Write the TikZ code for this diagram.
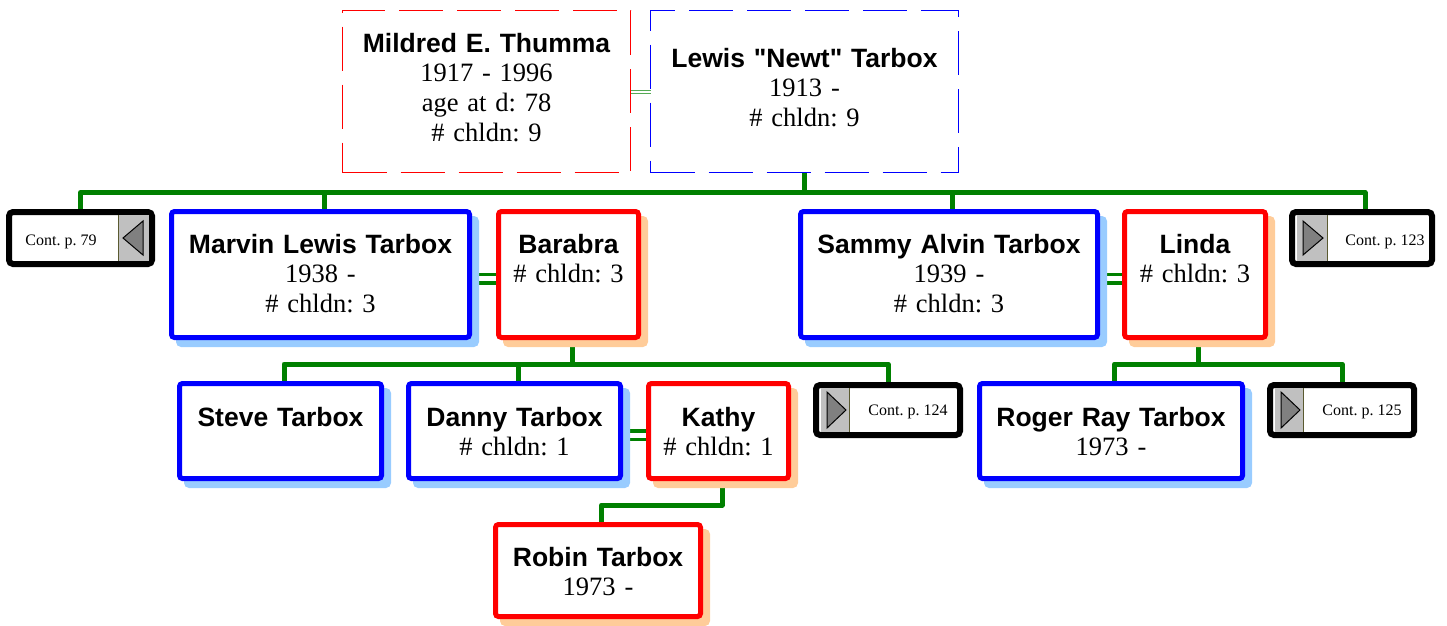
\documentclass[tikz,border=0pt]{standalone}
\usepackage{fontspec}
\setmainfont{Liberation Serif}
\setsansfont{Liberation Sans}
\usetikzlibrary{shadows,backgrounds}
\definecolor{pblue}{HTML}{0000FF}
\definecolor{pred}{HTML}{FF0000}
\definecolor{sblue}{HTML}{99CCFF}
\definecolor{sred}{HTML}{FFCC99}
\definecolor{lgreen}{HTML}{008000}
\definecolor{thingreen}{HTML}{55AA55}
\definecolor{panelgray}{HTML}{C0C0C0}
\definecolor{trigray}{HTML}{808080}
\definecolor{panelline}{HTML}{5A5A30}
\newcommand\pname[1]{{\sffamily\bfseries #1}}
\frenchspacing
\begin{document}
\begin{tikzpicture}[x=1pt,y=-1pt,
  every node/.style={inner sep=0pt, outer sep=0pt},
  dims/.style n args={3}{text width=#1, text height=#2, text depth=#3},
  person/.style={draw, fill=white, line width=5pt, rounded corners=3pt,
    align=center, anchor=north west, font=\frenchspacing\fontsize{26.5}{29.8}\selectfont},
  male/.style={person, draw=pblue,
    general shadow={draw=sblue, fill=sblue, shadow xshift=7pt, shadow yshift=-7pt}},
  female/.style={person, draw=pred,
    general shadow={draw=sred, fill=sred, shadow xshift=7pt, shadow yshift=-7pt}},
  topmale/.style={person, line width=0.9pt, rounded corners=0pt, draw=pblue, dash pattern=on 44pt off 14pt},
  topfemale/.style={person, line width=0.9pt, rounded corners=0pt, draw=pred, dash pattern=on 44pt off 14pt},
  cont/.style={draw=black, fill=white, line width=6pt, rounded corners=4pt, anchor=north west},
  conttxt/.style={anchor=base, font=\fontsize{16}{18}\selectfont},
  panel/.style={fill=panelgray},
  tri/.style={fill=trigray, draw=black, line width=1pt, line join=miter},
  conn/.style={draw=lgreen, line width=5pt, line join=round},
  marr/.style={draw=lgreen, line width=3.5pt, double=white, double distance=5pt},
  thinmarr/.style={draw=thingreen, line width=1pt, double=white, double distance=2pt}
]
\useasboundingbox (0,0) rectangle (1447,625);

% ---------- persons ----------
\node[topfemale, dims={288pt}{41.5pt}{120.5pt}] (mildred) at (342.5,10.5)
  {\pname{Mildred E. Thumma}\\1917 - 1996\\age at d: 78\\\# chldn: 9};
\node[topmale, dims={308pt}{56.5pt}{105.5pt}] (lewis) at (650.5,10.5)
  {\pname{Lewis \textquotedbl Newt\textquotedbl\ Tarbox}\\1913 -\\\# chldn: 9};

\node[male, dims={298pt}{41.5pt}{84.5pt}] (marvin) at (171.5,211.5)
  {\pname{Marvin Lewis Tarbox}\\1938 -\\\# chldn: 3};
\node[female, dims={140pt}{41.5pt}{84.5pt}] (barabra) at (498.5,211.5)
  {\pname{Barabra}\\\# chldn: 3};
\node[male, dims={297pt}{41.5pt}{84.5pt}] (sammy) at (800.5,211.5)
  {\pname{Sammy Alvin Tarbox}\\1939 -\\\# chldn: 3};
\node[female, dims={141pt}{41.5pt}{84.5pt}] (linda) at (1124.5,211.5)
  {\pname{Linda}\\\# chldn: 3};

\node[male, dims={202pt}{42.5pt}{52.5pt}] (steve) at (179.5,383.5)
  {\pname{Steve Tarbox}};
\node[male, dims={212pt}{42.5pt}{52.5pt}] (danny) at (408.5,383.5)
  {\pname{Danny Tarbox}\\\# chldn: 1};
\node[female, dims={140pt}{42.5pt}{52.5pt}] (kathy) at (648.5,383.5)
  {\pname{Kathy}\\\# chldn: 1};
\node[male, dims={263pt}{42.5pt}{52.5pt}] (roger) at (979.5,383.5)
  {\pname{Roger Ray Tarbox}\\1973 -};
\node[female, dims={205pt}{41.5pt}{50.5pt}] (robin) at (495.5,524.5)
  {\pname{Robin Tarbox}\\1973 -};

% ---------- continuation boxes ----------
\node[cont, minimum width=143pt, minimum height=52pt] (c79) at (9,212) {};
\fill[panel] ([xshift=-34pt,yshift=-3pt]c79.north east) rectangle ([xshift=-3pt,yshift=3pt]c79.south east);
\draw[panelline, line width=1pt] ([xshift=-34pt,yshift=-3pt]c79.north east) -- ([xshift=-34pt,yshift=3pt]c79.south east);
\draw[tri] ([xshift=-29pt]c79.east) -- ([xshift=-9pt,yshift=17pt]c79.east) -- ([xshift=-9pt,yshift=-17pt]c79.east) -- cycle;
\node[conttxt] at ([xshift=-19.5pt,yshift=-7pt]c79.center) {Cont. p. 79};

\node[cont, minimum width=140pt, minimum height=52pt] (c123) at (1292,212) {};
\fill[panel] ([xshift=5pt,yshift=-3pt]c123.north west) rectangle ([xshift=35pt,yshift=3pt]c123.south west);
\draw[panelline, line width=1pt] ([xshift=35pt,yshift=-3pt]c123.north west) -- ([xshift=35pt,yshift=3pt]c123.south west);
\draw[tri] ([xshift=31pt]c123.west) -- ([xshift=11pt,yshift=17pt]c123.west) -- ([xshift=11pt,yshift=-17pt]c123.west) -- cycle;
\node[conttxt] at ([xshift=23pt,yshift=-7pt]c123.center) {Cont. p. 123};

\node[cont, minimum width=144pt, minimum height=50pt] (c124) at (816,385) {};
\fill[panel] ([xshift=5pt,yshift=-3pt]c124.north west) rectangle ([xshift=33pt,yshift=3pt]c124.south west);
\draw[panelline, line width=1pt] ([xshift=33pt,yshift=-3pt]c124.north west) -- ([xshift=33pt,yshift=3pt]c124.south west);
\draw[tri] ([xshift=30pt]c124.west) -- ([xshift=11pt,yshift=18pt]c124.west) -- ([xshift=11pt,yshift=-18pt]c124.west) -- cycle;
\node[conttxt] at ([xshift=20pt,yshift=-5pt]c124.center) {Cont. p. 124};

\node[cont, minimum width=144pt, minimum height=50pt] (c125) at (1270,385) {};
\fill[panel] ([xshift=5pt,yshift=-3pt]c125.north west) rectangle ([xshift=33pt,yshift=3pt]c125.south west);
\draw[panelline, line width=1pt] ([xshift=33pt,yshift=-3pt]c125.north west) -- ([xshift=33pt,yshift=3pt]c125.south west);
\draw[tri] ([xshift=30pt]c125.west) -- ([xshift=11pt,yshift=18pt]c125.west) -- ([xshift=11pt,yshift=-18pt]c125.west) -- cycle;
\node[conttxt] at ([xshift=20pt,yshift=-5pt]c125.center) {Cont. p. 125};

% ---------- connectors ----------
\coordinate (bus1) at (0,192.5);
\coordinate (bus2) at (0,364);
\coordinate (bus3) at (0,505);
\coordinate (marvinN) at ([xshift=3.5pt]marvin.north);
\coordinate (sammyN) at ([xshift=3.5pt]sammy.north);
\coordinate (c123N) at ([xshift=3pt]c123.north);
\coordinate (barabraS) at ([xshift=3.5pt]barabra.south);
\coordinate (lindaS) at ([xshift=3.5pt]linda.south);
\coordinate (kathyS) at ([xshift=3.5pt]kathy.south);
\coordinate (steveN) at ([xshift=3.5pt]steve.north);
\coordinate (dannyN) at ([xshift=3.5pt]danny.north);
\coordinate (rogerN) at ([xshift=3.5pt]roger.north);
\coordinate (robinN) at ([xshift=3.5pt]robin.north);

\begin{scope}[on background layer]
  \draw[thinmarr] (mildred.east) -- (lewis.west);
  \draw[marr] ([yshift=-4pt]marvin.east) -- ([yshift=-4pt]barabra.west);
  \draw[marr] ([yshift=-4pt]sammy.east) -- ([yshift=-4pt]linda.west);
  \draw[marr] ([yshift=-4pt]danny.east) -- ([yshift=-4pt]kathy.west);

  \draw[conn] (lewis.south) -- (lewis.south |- bus1);
  \draw[conn] (c79.north) |- (bus1 -| c123N) -- (c123N);
  \draw[conn] (marvinN) -- (marvinN |- bus1);
  \draw[conn] (sammyN) -- (sammyN |- bus1);

  \draw[conn] (barabraS) -- (barabraS |- bus2);
  \draw[conn] (steveN) |- (bus2 -| c124.north) -- (c124.north);
  \draw[conn] (dannyN) -- (dannyN |- bus2);

  \draw[conn] (lindaS) -- (lindaS |- bus2);
  \draw[conn] (rogerN) |- (bus2 -| c125.north) -- (c125.north);

  \draw[conn] (kathyS) |- (bus3 -| robinN) -- (robinN);
\end{scope}
\end{tikzpicture}
\end{document}
